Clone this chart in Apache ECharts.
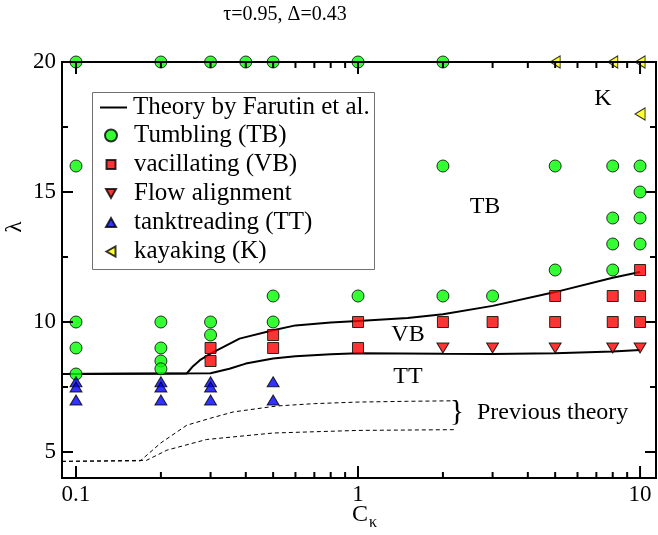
<!DOCTYPE html>
<html>
<head>
<meta charset="utf-8">
<script src="https://cdn.jsdelivr.net/npm/echarts@6/dist/echarts.min.js"></script>
<style>
html,body{margin:0;padding:0;background:#fff;}
#chart{width:658px;height:535px;}
</style>
</head>
<body>
<div id="chart"></div>
<script>
// ---------------- data ----------------
const xMin = 0.0892, xMax = 11.39, yMin = 4, yMax = 20;
const xMajorTicks = [0.1, 1, 10];
const xMinorTicks = [0.2,0.3,0.4,0.5,0.6,0.7,0.8,0.9,2,3,4,5,6,7,8,9];
const yMajorTicks = [5, 10, 15, 20];
const yMinorTicks = [7.5, 12.5, 17.5];

const tumbling = [
  [0.1,20],[0.1,16],[0.1,10],[0.1,9],[0.1,8],
  [0.2,20],[0.2,10],[0.2,9],[0.2,8.5],[0.2,8.2],
  [0.3,20],[0.3,10],[0.3,9.5],
  [0.4,20],
  [0.5,20],[0.5,11],[0.5,10],
  [1,20],[1,11],
  [2,20],[2,16],[2,11],
  [3,11],
  [5,16],[5,12],
  [8,16],[8,14],[8,13],[8,12],
  [10,16],[10,15],[10,14],[10,13]
];
const vacillating = [
  [0.3,9],[0.3,8.5],
  [0.5,9.5],[0.5,9],
  [1,10],[1,9],
  [2,10],[3,10],
  [5,11],[5,10],
  [8,11],[8,10],
  [10,12],[10,11],[10,10]
];
const flowAlign = [[2,9],[3,9],[5,9],[8,9],[10,9]];
const tankTread = [
  [0.1,7.7],[0.1,7.5],[0.1,7],
  [0.2,7.7],[0.2,7.5],[0.2,7],
  [0.3,7.7],[0.3,7.5],[0.3,7],
  [0.5,7.7],[0.5,7]
];
const kayaking = [[5,20],[8,20],[10,20],[10,18]];

const theoryUpper = [
  [0.0892,8.0],[0.247,8.02],[0.26,8.3],[0.275,8.53],[0.3,8.78],[0.38,9.36],
  [0.5,9.68],[0.6,9.87],[0.8,9.98],[1,10.04],[1.5,10.15],[2,10.3],[3,10.62],
  [5,11.15],[8,11.7],[10,11.92]
];
const theoryLower = [
  [0.0892,8.0],[0.3,8.03],[0.35,8.2],[0.4,8.4],[0.5,8.6],[0.6,8.68],[0.8,8.76],
  [1,8.8],[2,8.78],[3,8.77],[5,8.8],[8,8.87],[10,8.92]
];
const prevUpper = [
  [0.0892,4.64],[0.169,4.66],[0.2,5.35],[0.247,6.03],[0.3,6.3],[0.361,6.54],
  [0.515,6.77],[0.7,6.86],[1,6.92],[1.5,6.95],[2.24,6.97]
];
const prevLower = [
  [0.0892,4.64],[0.178,4.68],[0.21,5.07],[0.29,5.48],[0.5,5.73],[1,5.83],[2.24,5.86]
];

// ---------------- chart ----------------
const SERIF = 'Liberation Serif';
const chart = echarts.init(document.getElementById('chart'), null, {renderer:'canvas'});

function renderFrame(params, api) {
  const children = [];
  const tl = api.coord([xMin, yMax]);
  const br = api.coord([xMax, yMin]);
  const line = (x1,y1,x2,y2,w) => children.push({type:'line', shape:{x1,y1,x2,y2}, style:{stroke:'#000', lineWidth:w}});
  xMajorTicks.forEach(v => {
    const x = api.coord([v, yMin])[0];
    line(x, br[1], x, br[1]-12, 2);
    line(x, tl[1], x, tl[1]+12, 2);
  });
  xMinorTicks.forEach(v => {
    const x = api.coord([v, yMin])[0];
    line(x, br[1], x, br[1]-6, 2);
    line(x, tl[1], x, tl[1]+6, 2);
  });
  yMajorTicks.forEach(v => {
    const y = api.coord([xMin, v])[1];
    line(tl[0], y, tl[0]+11, y, 2);
    line(br[0], y, br[0]-11, y, 2);
  });
  yMinorTicks.forEach(v => {
    const y = api.coord([xMin, v])[1];
    line(tl[0], y, tl[0]+6, y, 2);
    line(br[0], y, br[0]-6, y, 2);
  });
  children.push({type:'rect', shape:{x:tl[0], y:tl[1], width:br[0]-tl[0], height:br[1]-tl[1]},
                 style:{stroke:'#000', lineWidth:2, fill:null}});
  return {type:'group', children};
}

const markerBorder = {borderColor:'#000', borderWidth:1};
const legendText = {color:'#000', fontFamily:SERIF, fontSize:25};

const option = {
  animation: false,
  backgroundColor: '#fff',
  grid: {left:62, right:2, top:62, bottom:57, containLabel:false, outerBoundsMode:'none'},
  xAxis: {
    type:'log', logBase:10, min:xMin, max:xMax,
    axisLine:{show:false}, axisTick:{show:false}, splitLine:{show:false},
    axisLabel:{
      color:'#000', fontFamily:SERIF, fontSize:23, margin:5,
      formatter: function(v){
        const l = Math.log10(v); const p = Math.round(l);
        if (Math.abs(l-p) > 1e-6) return '';
        return p < 0 ? '0.1' : String(Math.round(Math.pow(10,p)));
      }
    }
  },
  yAxis: {
    type:'value', min:yMin, max:yMax, interval:1,
    axisLine:{show:false}, axisTick:{show:false}, splitLine:{show:false},
    axisLabel:{
      color:'#000', fontFamily:SERIF, fontSize:23, margin:6,
      formatter: function(v){ return (yMajorTicks.indexOf(v) >= 0) ? String(v) : ''; }
    }
  },
  legend: [
    {
      orient:'vertical', left:100, top:95, padding:0, itemGap:4,
      itemWidth:27, itemHeight:12, selectedMode:false,
      textStyle:Object.assign({padding:[0,0,0,1]}, legendText),
      data:[{name:'Theory by Farutin et al.', icon:'path://M0,0L27,0L27,2L0,2Z'}]
    },
    {
      orient:'vertical', left:104, top:123, padding:0, itemGap:4,
      itemWidth:12, itemHeight:12, selectedMode:false,
      textStyle:Object.assign({padding:[0,0,0,12]}, legendText),
      data:[
        {name:'Tumbling (TB)', icon:'circle'},
        {name:'vacillating (VB)', icon:'path://M0,0M12,12M1.5,1.5L10.5,1.5L10.5,10.5L1.5,10.5Z'},
        {name:'Flow alignment', icon:'path://M0,0M12,12M1,1.5L11,1.5L6,10.5Z'},
        {name:'tanktreading (TT)', icon:'path://M0,0M12,12M6,1.5L11,10.5L1,10.5Z'},
        {name:'kayaking (K)', icon:'path://M0,0M12,12M1.5,6L10.5,1L10.5,11Z'}
      ]
    }
  ],
  graphic: [
    {type:'rect', shape:{x:92.5, y:92.5, width:282, height:177}, style:{stroke:'#707070', lineWidth:1, fill:null}, z:0},
    {type:'text', x:285, y:15, style:{text:'τ=0.95, Δ=0.43', font:'20px Liberation Serif', fill:'#000', align:'center', verticalAlign:'middle'}},
    {type:'text', x:15, y:227, rotation:Math.PI/2, style:{text:'λ', font:'23px Liberation Serif', fill:'#000', align:'center', verticalAlign:'middle'}},
    {type:'text', x:360, y:515, style:{text:'C', font:'24px Liberation Serif', fill:'#000', align:'center', verticalAlign:'middle'}},
    {type:'text', x:373, y:523, style:{text:'κ', font:'16px Liberation Serif', fill:'#000', align:'center', verticalAlign:'middle'}},
    {type:'text', x:603, y:99, style:{text:'K', font:'24px Liberation Serif', fill:'#000', align:'center', verticalAlign:'middle'}},
    {type:'text', x:485, y:207, style:{text:'TB', font:'24px Liberation Serif', fill:'#000', align:'center', verticalAlign:'middle'}},
    {type:'text', x:408, y:335, style:{text:'VB', font:'24px Liberation Serif', fill:'#000', align:'center', verticalAlign:'middle'}},
    {type:'text', x:408, y:377, style:{text:'TT', font:'24px Liberation Serif', fill:'#000', align:'center', verticalAlign:'middle'}},
    {type:'text', x:457, y:412, style:{text:'}', font:'30px Liberation Serif', fill:'#000', align:'center', verticalAlign:'middle'}},
    {type:'text', x:477, y:413, style:{text:'Previous theory', font:'24px Liberation Serif', fill:'#000', align:'left', verticalAlign:'middle'}}
  ],
  series: [
    {name:'Previous theory upper', type:'line', data:prevUpper, symbol:'none', z:2,
     lineStyle:{color:'#000', width:1, type:[4,3]}},
    {name:'Previous theory lower', type:'line', data:prevLower, symbol:'none', z:2,
     lineStyle:{color:'#000', width:1, type:[4,3]}},
    {name:'Theory by Farutin et al.', type:'line', data:theoryUpper, symbol:'none', z:3,
     lineStyle:{color:'#000', width:2}, itemStyle:{color:'#000'}},
    {name:'Theory by Farutin et al.', type:'line', data:theoryLower, symbol:'none', z:3,
     lineStyle:{color:'#000', width:2}, itemStyle:{color:'#000'}},
    {name:'Tumbling (TB)', type:'scatter', data:tumbling, symbol:'circle', symbolSize:12, clip:false, z:4,
     itemStyle:Object.assign({color:'#00ff00'}, markerBorder)},
    {name:'vacillating (VB)', type:'scatter', data:vacillating, symbol:'rect', symbolSize:11, clip:false, z:4,
     itemStyle:Object.assign({color:'#ff0000'}, markerBorder)},
    {name:'Flow alignment', type:'scatter', data:flowAlign, symbol:'triangle', symbolRotate:180, symbolSize:[12,10], clip:false, z:4,
     itemStyle:Object.assign({color:'#ff0000'}, markerBorder)},
    {name:'tanktreading (TT)', type:'scatter', data:tankTread, symbol:'triangle', symbolSize:[12,10], clip:false, z:4,
     itemStyle:Object.assign({color:'#0000ff'}, markerBorder)},
    {name:'kayaking (K)', type:'scatter', data:kayaking, symbol:'triangle', symbolRotate:90, symbolSize:[12,10], clip:false, z:4,
     itemStyle:Object.assign({color:'#ffff00'}, markerBorder)},
    {name:'frame', type:'custom', data:[[1,10]], renderItem:renderFrame, clip:false, z:10, silent:true}
  ]
};
chart.setOption(option);
</script>
</body>
</html>
